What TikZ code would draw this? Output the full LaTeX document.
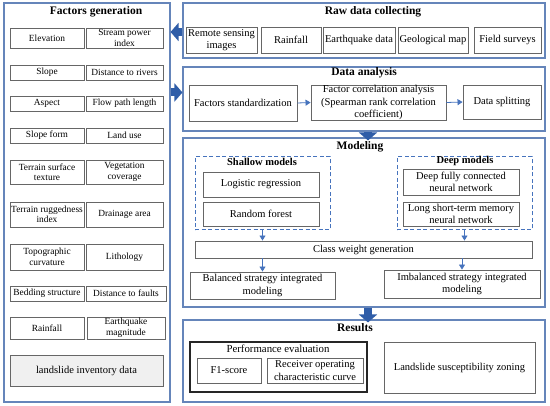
\documentclass[tikz,border=0pt]{standalone}
\usepackage{fontspec}
\setmainfont{Liberation Serif}
\usetikzlibrary{arrows.meta,calc}
\definecolor{panelblue}{HTML}{6585BA}
\definecolor{arrowblue}{HTML}{2F5DA8}
\definecolor{lightblue}{HTML}{4673BD}
\definecolor{boxgray}{HTML}{666666}
\tikzset{
 panel/.style={draw=panelblue, line width=1.1pt, inner sep=0pt},
 fbox/.style={draw=boxgray, line width=0.9pt, fill=white, inner sep=0pt, align=center, font=\fontsize{9.4}{10.5}\selectfont},
 rbox/.style={fbox, font=\fontsize{10.5}{12.3}\selectfont},
 pebox/.style={draw=black!85, line width=1.2pt, inner sep=0pt},
 ptitle/.style={font=\bfseries\fontsize{11.5}{13}\selectfont, inner sep=0pt},
 stitle/.style={font=\bfseries\fontsize{10.5}{12}\selectfont, inner sep=0pt},
 plain/.style={font=\fontsize{10.8}{12}\selectfont, inner sep=0pt},
 dbox/.style={draw=lightblue, line width=1pt, dash pattern=on 4pt off 2.5pt, inner sep=0pt},
 bigarrow/.style={draw=arrowblue, line width=8pt, -{Triangle[width=18pt,length=8pt]}},
 smallarrow/.style={draw=lightblue, line width=0.8pt, -{Triangle[width=6pt,length=5pt]}},
}
% #1 style, #2 name, #3 x1, #4 y1, #5 x2, #6 y2, #7 text
\newcommand\mybox[7]{%
  \pgfmathsetmacro\mbw{#5-#3}\pgfmathsetmacro\mbh{#6-#4}%
  \pgfmathsetmacro\mbcx{(#3+#5)/2}\pgfmathsetmacro\mbcy{(#4+#6)/2}%
  \node[#1, minimum width=\mbw pt, minimum height=\mbh pt] (#2) at (\mbcx,\mbcy) {#7};}
\begin{document}
\begin{tikzpicture}[x=1pt,y=-1pt]
\fill[white] (0,0) rectangle (550,406);
\useasboundingbox (0,0) rectangle (550,406);

% ---------- Factors generation ----------
\mybox{panel}{fg}{4}{3}{170}{402}{}
\node[ptitle] (fgt) at (96,12) {Factors generation};
\mybox{fbox}{elev}{10}{28}{84}{48}{Elevation}
\mybox{fbox}{spi}{86}{28}{163}{48}{Stream power\\index}
\mybox{fbox}{slope}{10}{65}{84}{80}{Slope}
\mybox{fbox}{drv}{86}{65}{163}{80}{Distance to rivers}
\mybox{fbox}{asp}{10}{96}{84}{111}{Aspect}
\mybox{fbox}{fpl}{86}{96}{163}{111}{Flow path length}
\mybox{fbox}{sf}{10}{128}{84}{143}{Slope form}
\mybox{fbox}{lu}{86}{128}{163}{143}{Land use}
\mybox{fbox}{tst}{10}{160}{84}{184}{Terrain surface\\texture}
\mybox{fbox}{vc}{86}{160}{163}{184}{Vegetation\\coverage}
\mybox{fbox}{tri}{10}{202}{84}{227}{Terrain ruggedness\\index}
\mybox{fbox}{dra}{86}{202}{163}{227}{Drainage area}
\mybox{fbox}{tc}{10}{244}{84}{270}{Topographic\\curvature}
\mybox{fbox}{lith}{86}{244}{163}{270}{Lithology}
\mybox{fbox}{bs}{10}{286}{84}{301}{Bedding structure}
\mybox{fbox}{dtf}{86}{286}{166}{301}{Distance to faults}
\mybox{fbox}{rfl}{10}{317}{84}{339}{Rainfall}
\mybox{fbox}{em}{87}{317}{165}{339}{Earthquake\\magnitude}
\mybox{rbox, fill=gray!12}{inv}{10}{355}{163}{386}{landslide inventory data}

% ---------- Raw data collecting ----------
\mybox{panel}{raw}{183}{3}{545}{58}{}
\node[ptitle] (rawt) at (373,12) {Raw data collecting};
\mybox{rbox}{rs}{186}{27}{257}{53}{Remote sensing\\images}
\mybox{rbox}{rain}{261}{27}{321}{53}{Rainfall}
\mybox{rbox}{eq}{323}{27}{395}{53}{Earthquake data}
\mybox{rbox}{geo}{398}{27}{468}{53}{Geological map}
\mybox{rbox}{field}{474}{27}{541}{53}{Field surveys}

% ---------- Data analysis ----------
\mybox{panel}{da}{183}{67}{545}{131}{}
\node[ptitle] (dat) at (364,73) {Data analysis};
\mybox{rbox}{fs}{189}{85}{297}{121}{Factors standardization}
\mybox{rbox}{fca}{311}{85}{446}{120}{Factor correlation analysis\\(Spearman rank correlation\\coefficient)}
\mybox{rbox}{dsp}{463}{85}{541}{119}{Data splitting}

% ---------- Modeling ----------
\mybox{panel}{mod}{183}{138}{545}{307}{}
\node[ptitle] (modt) at (360,147) {Modeling};
\mybox{dbox}{sh}{195}{157}{330}{230}{}
\node[stitle] (sht) at (262,162) {Shallow models};
\mybox{rbox}{lr}{203}{172}{319}{197}{Logistic regression}
\mybox{rbox}{rfo}{203}{202}{319}{226}{Random forest}
\mybox{dbox}{dp}{397}{157}{532}{230}{}
\node[stitle] (dpt) at (465,161) {Deep models};
\mybox{rbox}{dfc}{403}{169}{519}{195}{Deep fully connected\\neural network}
\mybox{rbox}{lstm}{403}{202}{519}{226}{Long short-term memory\\neural network}
\mybox{rbox}{cw}{195}{241}{532}{258}{Class weight generation}
\mybox{rbox}{bal}{190}{272}{335}{299}{Balanced strategy integrated\\modeling}
\mybox{rbox}{imb}{384}{270}{540}{298}{Imbalanced strategy integrated\\modeling}

% ---------- Results ----------
\mybox{panel}{res}{183}{320}{545}{402}{}
\node[ptitle] (rest) at (355,328) {Results};
\mybox{pebox}{pe}{190}{342}{367}{392}{}
\node[plain] (pet) at (278,349) {Performance evaluation};
\mybox{rbox}{f1}{197}{358}{261}{383}{F1-score}
\mybox{rbox}{roc}{267}{358}{363}{383}{Receiver operating\\characteristic curve}
\mybox{rbox}{lsz}{384}{342}{535}{393}{Landslide susceptibility zoning}

% ---------- big arrows ----------
\draw[bigarrow] ([yshift=-1.5pt]raw.west) -- ([yshift=-1.5pt]fg.east |- raw.west);
\coordinate (a2) at ($(da.north west)!0.4!(da.south west)$);
\draw[bigarrow] (fg.east |- a2) -- (a2);
\draw[bigarrow] ([xshift=4pt]da.south) -- ([xshift=4pt,yshift=-3pt]mod.north);
\draw[bigarrow] ([xshift=4pt]mod.south) -- ([xshift=4pt,yshift=-3pt]res.north);

% ---------- small arrows ----------
\draw[smallarrow] (fs.east) -- (fca.west);
\draw[smallarrow] (fca.east) -- (dsp.west);
\draw[smallarrow] (sh.south) -- (cw.north -| sh.south);
\draw[smallarrow] (dp.south) -- (cw.north -| dp.south);
\draw[smallarrow] (cw.south -| bal.north) -- (bal.north);
\draw[smallarrow] (cw.south -| imb.north) -- (imb.north);
\end{tikzpicture}
\end{document}
